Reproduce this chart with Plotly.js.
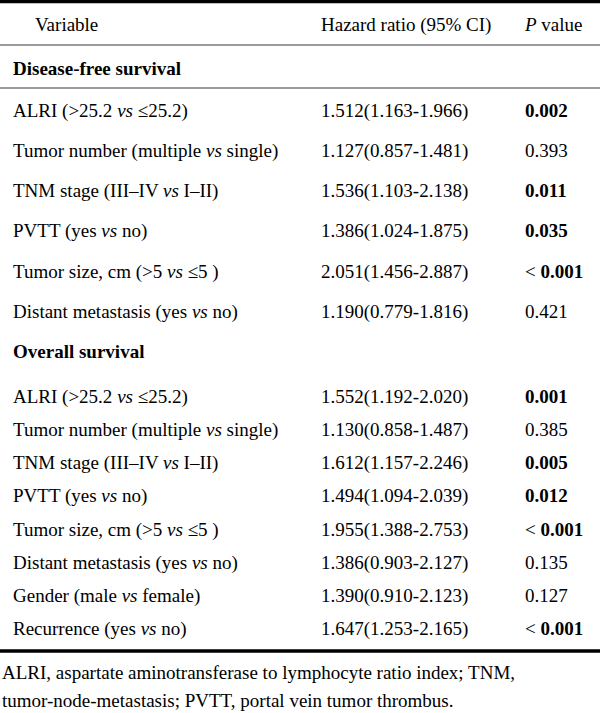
<!DOCTYPE html>
<html>
<head>
<meta charset="utf-8">
<script src="https://cdn.plot.ly/plotly-3.0.1.min.js"></script>
<style>html,body{margin:0;padding:0;background:#fff;}#chart{width:600px;height:713px;}</style>
</head>
<body>
<div id="chart"></div>
<script>
// ---- data ----
const headers = ["Variable", "Hazard ratio (95% CI)", "P value"];
const sections = ["Disease-free survival", "Overall survival"];

const dfsVariables = [
  "ALRI (>25.2 vs ≤25.2)",
  "Tumor number (multiple vs single)",
  "TNM stage (III–IV vs I–II)",
  "PVTT (yes vs no)",
  "Tumor size, cm (>5 vs ≤5 )",
  "Distant metastasis (yes vs no)"
];
const dfsHR = [
  "1.512(1.163-1.966)",
  "1.127(0.857-1.481)",
  "1.536(1.103-2.138)",
  "1.386(1.024-1.875)",
  "2.051(1.456-2.887)",
  "1.190(0.779-1.816)"
];
const dfsP = ["0.002", "0.393", "0.011", "0.035", "< 0.001", "0.421"];

const osVariables = [
  "ALRI (>25.2 vs ≤25.2)",
  "Tumor number (multiple vs single)",
  "TNM stage (III–IV vs I–II)",
  "PVTT (yes vs no)",
  "Tumor size, cm (>5 vs ≤5 )",
  "Distant metastasis (yes vs no)",
  "Gender (male vs female)",
  "Recurrence (yes vs no)"
];
const osHR = [
  "1.552(1.192-2.020)",
  "1.130(0.858-1.487)",
  "1.612(1.157-2.246)",
  "1.494(1.094-2.039)",
  "1.955(1.388-2.753)",
  "1.386(0.903-2.127)",
  "1.390(0.910-2.123)",
  "1.647(1.253-2.165)"
];
const osP = ["0.001", "0.385", "0.005", "0.012", "< 0.001", "0.135", "0.127", "< 0.001"];

const footnote = [
  "ALRI, aspartate aminotransferase to lymphocyte ratio index; TNM,",
  "tumor-node-metastasis; PVTT, portal vein tumor thrombus."
];

// ---- layout constants ----
const W = 600, H = 713;
const FONT = "Liberation Serif, Times New Roman, serif";
const FS = 19;
const colX = {var: 13, hr: 321, p: 525, head: 35};
const headerY = 26;
const dfsLabelY = 70;
const dfsStartY = 112, dfsStep = 40.2;
const osLabelY = 353;
const osStartY = 398, osStep = 33.2;

function esc(s){ return s.replace(/&/g,"&amp;").replace(/</g,"&lt;").replace(/>/g,"&gt;"); }
function fmtVar(s){ return esc(s).replace(/ vs /g, " <i>vs</i> "); }
function fmtP(s){
  if (s.trim().startsWith("<")) return "&lt; <b>" + s.replace("<","").trim() + "</b>";
  return parseFloat(s) < 0.05 ? "<b>" + s + "</b>" : s;
}

function rowsTrace(vars, hrs, ps, startY, step){
  const x = [], y = [], t = [];
  vars.forEach((v, i) => {
    const yy = startY + i * step;
    x.push(colX.var, colX.hr, colX.p);
    y.push(yy, yy, yy);
    t.push(fmtVar(v), esc(hrs[i]), fmtP(ps[i]));
  });
  return {
    type: "scatter", mode: "text", x: x, y: y, text: t,
    textposition: "middle right", hoverinfo: "skip", showlegend: false,
    textfont: {family: FONT, size: FS, color: "#000"}
  };
}

const traces = [
  rowsTrace(dfsVariables, dfsHR, dfsP, dfsStartY, dfsStep),
  rowsTrace(osVariables, osHR, osP, osStartY, osStep),
  {
    type: "scatter", mode: "text",
    x: [colX.var, colX.var],
    y: [dfsLabelY, osLabelY],
    text: sections.map(s => "<b>" + s + "</b>"),
    textposition: "middle right", hoverinfo: "skip", showlegend: false,
    textfont: {family: FONT, size: FS, color: "#000"}
  },
  {
    type: "scatter", mode: "text",
    x: [colX.head, colX.hr, colX.p],
    y: [headerY, headerY, headerY],
    text: [headers[0], headers[1], "<i>P</i>" + headers[2].slice(1)],
    textposition: "middle right", hoverinfo: "skip", showlegend: false,
    textfont: {family: FONT, size: FS, color: "#000"}
  }
];

const thin = {color: "#7a7a7a", width: 1.5};
const thick = {color: "#000", width: 3.5};
const shapes = [
  {type: "line", xref: "x", yref: "y", x0: 0, x1: W, y0: 1.5, y1: 1.5, line: thick},
  {type: "line", xref: "x", yref: "y", x0: 0, x1: W, y0: 45, y1: 45, line: thin},
  {type: "line", xref: "x", yref: "y", x0: 0, x1: W, y0: 88, y1: 88, line: thin},
  {type: "line", xref: "x", yref: "y", x0: 0, x1: W, y0: 651, y1: 651, line: thick}
];

const annotations = footnote.map((t, i) => ({
  xref: "x", yref: "y", x: 0, y: 672 + i * 28,
  xanchor: "left", yanchor: "middle", showarrow: false,
  text: t, font: {family: FONT, size: FS, color: "#000"}
}));

const layout = {
  width: W, height: H,
  margin: {l: 0, r: 0, t: 0, b: 0},
  paper_bgcolor: "#fff", plot_bgcolor: "#fff",
  xaxis: {range: [0, W], visible: false, fixedrange: true},
  yaxis: {range: [H, 0], visible: false, fixedrange: true},
  shapes: shapes, annotations: annotations, showlegend: false
};

Plotly.newPlot("chart", traces, layout, {staticPlot: true, displayModeBar: false});
</script>
</body>
</html>
